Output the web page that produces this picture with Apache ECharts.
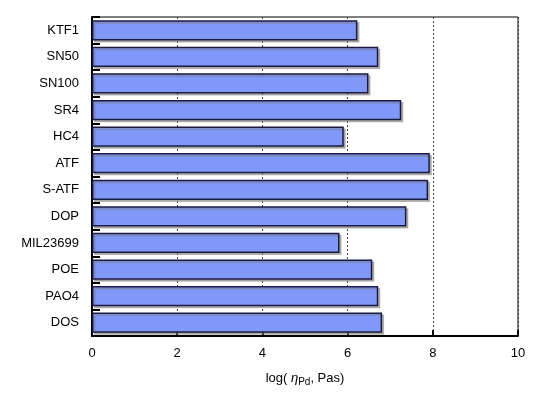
<!DOCTYPE html>
<html>
<head>
<meta charset="utf-8">
<script src="https://cdn.jsdelivr.net/npm/echarts@6/dist/echarts.min.js"></script>
<style>html,body{margin:0;padding:0;background:#fff;}#c{width:534px;height:394px;}</style>
</head>
<body>
<div id="c"></div>
<script>
const categories = ['KTF1','SN50','SN100','SR4','HC4','ATF','S-ATF','DOP','MIL23699','POE','PAO4','DOS'];
const values = [6.23, 6.72, 6.49, 7.26, 5.91, 7.93, 7.89, 7.38, 5.81, 6.58, 6.72, 6.81];
const xTicks = [0, 2, 4, 6, 8, 10];

const chart = echarts.init(document.getElementById('c'), null, {renderer: 'canvas'});
const font = 'Liberation Sans, Arial, sans-serif';
chart.setOption({
  animation: false,
  backgroundColor: '#fff',
  grid: {left: 92, right: 16, top: 17, bottom: 58, show: true, borderColor: '#000', borderWidth: 1},
  xAxis: {
    type: 'value', min: xTicks[0], max: xTicks[xTicks.length - 1], interval: 2,
    axisLine: {show: true, lineStyle: {color: '#000', width: 2}},
    axisTick: {show: true, inside: true, length: 6, lineStyle: {color: '#000', width: 2}},
    axisLabel: {color: '#000', fontSize: 13, fontFamily: font, margin: 11},
    splitLine: {show: true, lineStyle: {color: '#444', width: 1, type: [2, 2]}},
    name: 'log( {eta|η}{sub|Pd}, Pas)',
    nameLocation: 'middle', nameGap: 34,
    nameTextStyle: {color: '#000', fontSize: 13, fontFamily: font,
      rich: {eta: {fontStyle: 'italic', fontSize: 13, fontFamily: font, color: '#000'},
             sub: {fontSize: 10, fontFamily: font, color: '#000', verticalAlign: 'bottom', padding: [7, 0, 0, 0]}}}
  },
  yAxis: {
    type: 'category', data: categories, inverse: true,
    axisLine: {show: true, lineStyle: {color: '#000', width: 2}},
    axisTick: {show: true, inside: true, length: 8, lineStyle: {color: '#000', width: 2}},
    axisLabel: {color: '#000', fontSize: 13, fontFamily: font, margin: 13},
    splitLine: {show: false}
  },
  series: [{
    type: 'bar', data: values, barCategoryGap: '24%',
    itemStyle: {color: '#8098f8', borderColor: '#1a1a40', borderWidth: 1.5,
      shadowColor: 'rgba(120,120,120,0.5)', shadowOffsetX: 2, shadowOffsetY: 2, shadowBlur: 0}
  }]
});
</script>
</body>
</html>
